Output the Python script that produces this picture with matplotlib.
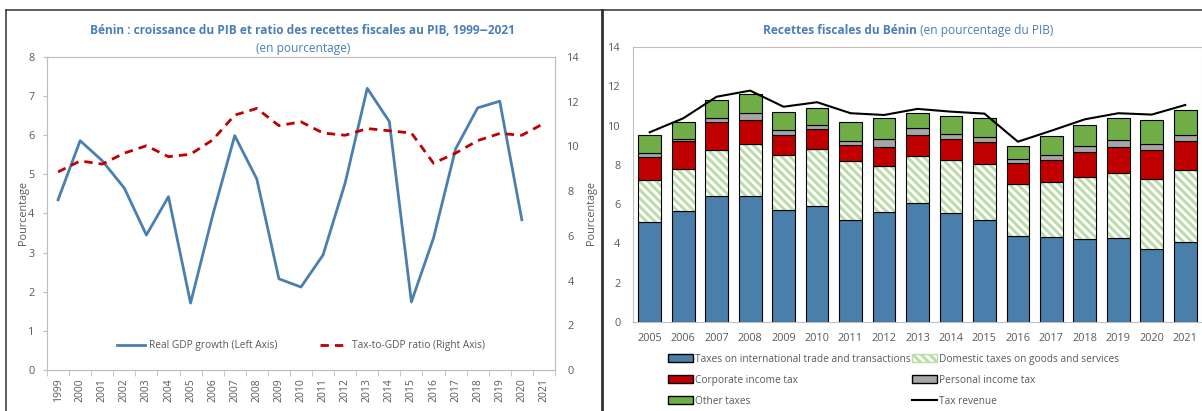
import matplotlib
matplotlib.use("Agg")
import matplotlib.pyplot as plt
from matplotlib.lines import Line2D
from matplotlib.patches import Patch
import numpy as np

plt.rcParams['font.family'] = ['Open Sans', 'DejaVu Sans']
plt.rcParams['hatch.linewidth'] = 2.2

# left chart data
years_left = [str(y) for y in range(1999, 2022)]
gdp_growth = [4.35, 5.86, 5.35, 4.65, 3.45, 4.43, 1.71, 3.95, 5.99, 4.88, 2.33, 2.12,
              2.94, 4.78, 7.2, 6.35, 1.74, 3.37, 5.65, 6.7, 6.87, 3.84, np.nan]
tax_ratio = [8.86, 9.35, 9.21, 9.7, 10.03, 9.54, 9.65, 10.29, 11.4, 11.7, 10.93, 11.1,
             10.6, 10.5, 10.8, 10.7, 10.6, 9.25, 9.7, 10.26, 10.58, 10.5, 11.03]

# right chart data (pourcentage du PIB)
years_right = [str(y) for y in range(2005, 2022)]
intl_trade = [5.07, 5.67, 6.42, 6.42, 5.69, 5.91, 5.19, 5.62, 6.04, 5.53, 5.18, 4.38,
              4.31, 4.21, 4.28, 3.70, 4.07]
domestic = [2.16, 2.14, 2.35, 2.66, 2.80, 2.92, 3.02, 2.34, 2.43, 2.72, 2.85, 2.65,
            2.83, 3.19, 3.32, 3.60, 3.65]
corporate = [1.15, 1.39, 1.40, 1.21, 1.02, 1.01, 0.80, 0.95, 1.05, 1.08, 1.12, 1.05,
             1.11, 1.24, 1.33, 1.44, 1.48]
personal = [0.24, 0.10, 0.20, 0.34, 0.27, 0.21, 0.22, 0.42, 0.34, 0.24, 0.29, 0.24,
            0.27, 0.32, 0.32, 0.31, 0.31]
other = [0.90, 0.87, 0.93, 0.96, 0.91, 0.86, 0.94, 1.04, 0.77, 0.94, 0.96, 0.66,
         0.95, 1.07, 1.12, 1.22, 1.27]
tax_revenue = [9.66, 10.37, 11.47, 11.78, 10.96, 11.19, 10.63, 10.54, 10.85, 10.71,
               10.61, 9.18, 9.74, 10.32, 10.63, 10.56, 11.05]

# colours
TXT = '#595959'
TITLE = '#4a7ebb'
BLUE = '#4a7fb0'
BAR_BLUE = '#4a7eab'
RED = '#c00000'
HATCH_GREEN = '#bcdcaa'
GRAY = '#a6a6a6'
GREEN = '#70ad47'
SPINE = '#bfbfbf'

fig = plt.figure(figsize=(12.02, 4.11), dpi=100)

# panel frames
fig.add_artist(Line2D([0.0046, 1.0], [0.9745, 0.9745], color='#404040', lw=1.2))
fig.add_artist(Line2D([0.0046, 0.0046], [0, 0.9745], color='#404040', lw=1.2))
fig.add_artist(Line2D([0.5008, 0.5008], [0, 0.9745], color='#303030', lw=2))

# ---- left chart ----
ax1 = fig.add_axes([0.0391, 0.0998, 0.4226, 0.7615])
x = np.arange(len(years_left))
ax1.plot(x, gdp_growth, color=BLUE, lw=2, label='Real GDP growth (Left Axis)')
ax1.set_xlim(-0.5, len(years_left) - 0.5)
ax1.set_ylim(0, 8)
ax1.set_xticks(x)
ax1.set_xticklabels(years_left, rotation=90, fontsize=7.5, color=TXT)
ax1.set_xticks(np.arange(-0.5, len(years_left)), minor=True)
ax1.tick_params(axis='x', which='major', length=0, pad=6)
ax1.tick_params(axis='x', which='minor', length=4, color=SPINE)
ax1.tick_params(axis='y', length=3, color=SPINE, labelsize=7.8, labelcolor=TXT, pad=6)
for s in ax1.spines.values():
    s.set_color(SPINE)
ax1.set_ylabel('Pourcentage', fontsize=7.8, color=TXT)
ax1.yaxis.set_label_coords(-0.036, 0.5)

ax2 = ax1.twinx()
ax2.plot(x, tax_ratio, color=RED, lw=2, ls=(0, (3, 2.2)), label='Tax-to-GDP ratio (Right Axis)')
ax2.set_ylim(0, 14)
ax2.set_yticks(range(0, 15, 2))
ax2.tick_params(axis='y', length=0, labelsize=7.8, labelcolor=TXT, pad=9)
for s in ax2.spines.values():
    s.set_color(SPINE)
ax2.set_ylabel('Pourcentage', fontsize=7.8, color=TXT)
ax2.yaxis.set_label_coords(1.062, 0.5)

h1, l1 = ax1.get_legend_handles_labels()
h2, l2 = ax2.get_legend_handles_labels()
ax1.legend(h1 + h2, l1 + l2, loc='lower center', bbox_to_anchor=(0.5, 0.03), ncol=2,
           frameon=False, fontsize=7.3, labelcolor=TXT, handlelength=2.8,
           handletextpad=0.4, columnspacing=4.2)

fig.text(0.252, 0.925, 'Bénin : croissance du PIB et ratio des recettes fiscales au PIB, 1999‒2021',
         ha='center', va='center', fontsize=8.6, fontweight='bold', color=TITLE)
fig.text(0.252, 0.883, '(en pourcentage)', ha='center', va='center', fontsize=8.6, color=TITLE)

# ---- right chart ----
ax3 = fig.add_axes([0.5266, 0.2165, 0.4734, 0.6691])
xr = np.arange(len(years_right))
w = 0.68
bottom = np.zeros(len(years_right))
ax3.bar(xr, intl_trade, w, bottom=bottom, color=BAR_BLUE, edgecolor='black', lw=0.8)
bottom += np.array(intl_trade)
ax3.bar(xr, domestic, w, bottom=bottom, color='white', edgecolor=HATCH_GREEN,
        hatch='\\\\\\\\', lw=0)
ax3.bar(xr, domestic, w, bottom=bottom, fill=False, edgecolor='black', lw=0.8)
bottom += np.array(domestic)
ax3.bar(xr, corporate, w, bottom=bottom, color=RED, edgecolor='black', lw=0.8)
bottom += np.array(corporate)
ax3.bar(xr, personal, w, bottom=bottom, color=GRAY, edgecolor='black', lw=0.8)
bottom += np.array(personal)
ax3.bar(xr, other, w, bottom=bottom, color=GREEN, edgecolor='black', lw=0.8)
ax3.plot(xr, tax_revenue, color='black', lw=1.5)
ax3.set_xlim(-0.5, len(years_right) - 0.5)
ax3.set_ylim(0, 14)
ax3.set_yticks(range(0, 15, 2))
ax3.set_xticks(xr)
ax3.set_xticklabels(years_right)
ax3.tick_params(length=0, labelsize=7.8, labelcolor=TXT)
ax3.tick_params(axis='y', pad=9)
ax3.tick_params(axis='x', pad=8)
for s in ax3.spines.values():
    s.set_color(SPINE)

handles = [Patch(facecolor=BAR_BLUE, edgecolor='black'),
           Patch(facecolor=RED, edgecolor='black'),
           Patch(facecolor=GREEN, edgecolor='black'),
           Patch(facecolor='white', edgecolor=HATCH_GREEN, hatch='\\\\\\\\'),
           Patch(facecolor=GRAY, edgecolor='black'),
           Line2D([], [], color='black', lw=1.5)]
labels = ['Taxes on international trade and transactions', 'Corporate income tax', 'Other taxes',
          'Domestic taxes on goods and services', 'Personal income tax', 'Tax revenue']
ax3.legend(handles, labels, loc='upper left', bbox_to_anchor=(0.055, -0.1), ncol=2,
           frameon=False, fontsize=7.3, labelcolor=TXT, handlelength=2.4, handleheight=0.8,
           handletextpad=0.2, columnspacing=0.2, labelspacing=1.0, borderaxespad=0)

fig.text(0.763, 0.925, 'Recettes fiscales du Bénin', ha='right', va='center', fontsize=8.6,
         fontweight='bold', color=TITLE)
fig.text(0.763, 0.925, ' (en pourcentage du PIB)', ha='left', va='center', fontsize=8.6,
         color=TITLE)

fig.savefig('out.png', dpi=100)
